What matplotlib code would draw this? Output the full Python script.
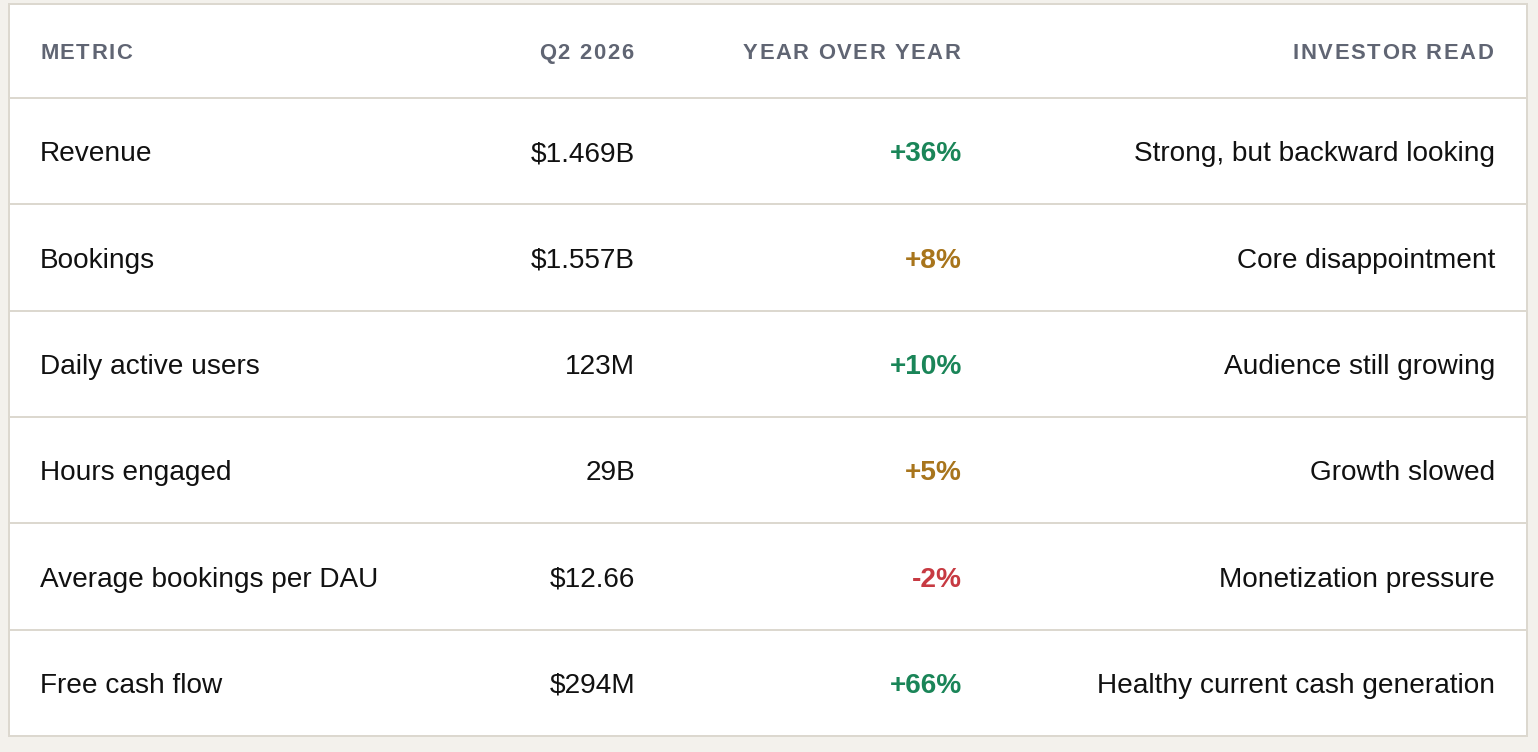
import matplotlib
matplotlib.use("Agg")
import matplotlib.pyplot as plt
from matplotlib.patches import Rectangle

# ---- data ----
headers = ["METRIC", "Q2 2026", "YEAR OVER YEAR", "INVESTOR READ"]
metrics = ["Revenue", "Bookings", "Daily active users", "Hours engaged",
           "Average bookings per DAU", "Free cash flow"]
q2_values = ["$1.469B", "$1.557B", "123M", "29B", "$12.66", "$294M"]
yoy_values = [36, 8, 10, 5, -2, 66]
investor_read = ["Strong, but backward looking", "Core disappointment",
                 "Audience still growing", "Growth slowed",
                 "Monetization pressure", "Healthy current cash generation"]

W, H = 1538, 752
DPI = 100
FONT = "Liberation Sans"
BG = "#f3f1ec"
BORDER = "#dcd8cf"
HEAD_COLOR = "#606573"
TEXT_COLOR = "#111111"
GREEN = "#1a8558"
AMBER = "#a8751c"
RED = "#c73a42"

fig = plt.figure(figsize=(W / DPI, H / DPI), dpi=DPI)
fig.patch.set_facecolor(BG)
ax = fig.add_axes([0, 0, 1, 1])
ax.set_xlim(0, W)
ax.set_ylim(H, 0)
ax.axis("off")

left, right, top, bottom = 9, 1527, 4, 736
header_bottom = 98
n = len(metrics)
row_h = (bottom - header_bottom) / n

ax.add_patch(Rectangle((left, top), right - left, bottom - top,
                       facecolor="white", edgecolor=BORDER, linewidth=2 * 72 / DPI, zorder=1))
for i in range(n):
    y = header_bottom + i * row_h
    ax.plot([left, right], [y, y], color=BORDER, linewidth=2 * 72 / DPI, zorder=2,
            solid_capstyle="butt")

px = 72 / DPI
body_px = 28
head_px = 22
body_pt = body_px * px
head_pt = head_px * px

# column anchors: (x, align)
cols = [(40, "left"), (635, "right"), (962, "right"), (1495, "right")]

fig.canvas.draw()
renderer = fig.canvas.get_renderer()


def spaced_text(x, y, s, ha, spacing_px, **kw):
    widths = []
    for ch in s:
        if ch == " ":
            t2 = ax.text(0, 0, "a a", **kw)
            t3 = ax.text(0, 0, "aa", **kw)
            w = (t2.get_window_extent(renderer=renderer).width
                 - t3.get_window_extent(renderer=renderer).width)
            t2.remove()
            t3.remove()
        else:
            t = ax.text(0, 0, ch, **kw)
            w = t.get_window_extent(renderer=renderer).width
            t.remove()
        widths.append(w)
    total = sum(widths) + spacing_px * (len(s) - 1)
    cx = x if ha == "left" else x - total - 2
    for ch, w in zip(s, widths):
        ax.text(cx, y, ch, ha="left", **kw)
        cx += w + spacing_px


head_y = (top + header_bottom) / 2 + 0.358 * head_px
for (x, ha), h in zip(cols, headers):
    spaced_text(x, head_y, h, ha, 1.6, fontsize=head_pt, fontweight="bold",
                color=HEAD_COLOR, family=FONT, va="baseline", zorder=3)


def yoy_color(v):
    if v < 0:
        return RED
    if v < 10:
        return AMBER
    return GREEN


for i in range(n):
    cy = header_bottom + (i + 0.5) * row_h + 0.358 * body_px
    ax.text(cols[0][0], cy, metrics[i], ha="left", va="baseline",
            fontsize=body_pt, color=TEXT_COLOR, family=FONT, zorder=3)
    ax.text(cols[1][0], cy, q2_values[i], ha="right", va="baseline",
            fontsize=body_pt, color=TEXT_COLOR, family=FONT, zorder=3)
    v = yoy_values[i]
    label = f"+{v}%" if v > 0 else f"{v}%"
    ax.text(cols[2][0], cy, label, ha="right", va="baseline",
            fontsize=body_pt, fontweight="bold", color=yoy_color(v), family=FONT, zorder=3)
    ax.text(cols[3][0], cy, investor_read[i], ha="right", va="baseline",
            fontsize=body_pt, color=TEXT_COLOR, family=FONT, zorder=3)

fig.savefig("out.png", dpi=DPI, facecolor=BG)
